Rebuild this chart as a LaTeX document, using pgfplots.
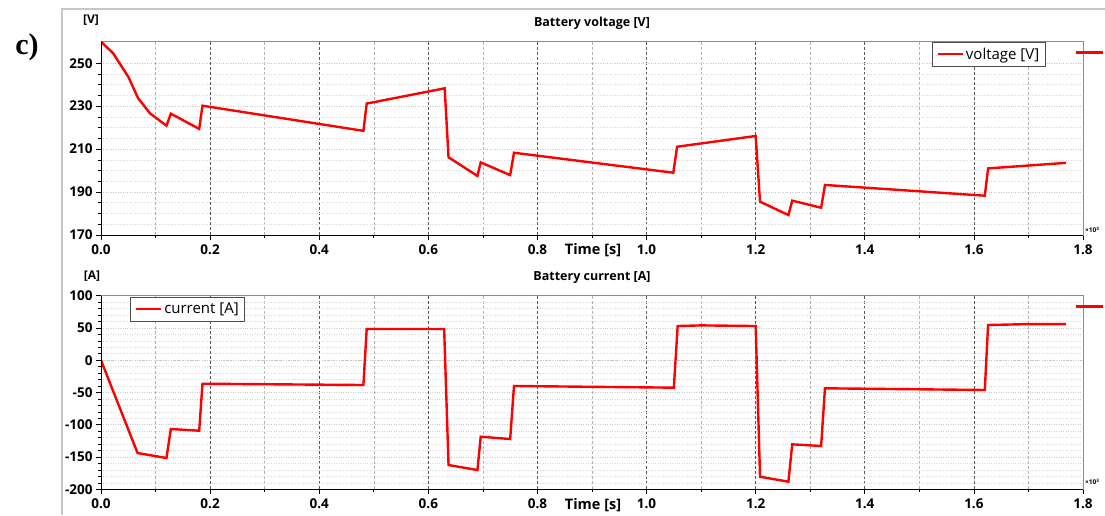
\documentclass[border=0pt]{standalone}
\usepackage{pgfplots}
\pgfplotsset{compat=1.18}
\usepackage{pgfplotstable}
\usepackage{fontspec}
\setmainfont{Open Sans}
\newfontfamily\serifbf{Liberation Serif}

\pgfplotstableread{
t V
0     260
0.022 254.7
0.05  243.7
0.068 233.7
0.09  226.6
0.120 220.9
0.128 226.5
0.180 219.4
0.186 230.2
0.481 218.5
0.487 231.2
0.630 238.3
0.637 206.2
0.690 197.5
0.696 203.8
0.750 197.9
0.757 208.3
1.049 199.0
1.056 211.1
1.200 216.1
1.208 185.5
1.260 179.3
1.267 186.0
1.320 182.7
1.327 193.3
1.620 188.3
1.626 201.0
1.769 203.6
}\voltdata

\pgfplotstableread{
t I
0     0
0.067 -143.8
0.120 -151.5
0.128 -106.6
0.180 -109.2
0.186 -36.4
0.481 -38.4
0.487 48.4
0.629 48.4
0.637 -162.4
0.690 -170.1
0.696 -118.5
0.750 -122.1
0.757 -39.9
1.050 -42.5
1.057 53.0
1.100 54.0
1.200 53.0
1.208 -180.5
1.260 -188.2
1.267 -130.3
1.320 -132.9
1.327 -43.5
1.620 -46.1
1.626 54.6
1.700 56.0
1.769 56.0
}\curdata

\pgfplotsset{
  common/.style={
    scale only axis, width=982pt,
    xmin=0, xmax=1.8,
    xtick={0,0.2,0.4,0.6,0.8,1.0,1.2,1.4,1.6,1.8},
    xticklabels={0.0,0.2,0.4,0.6,0.8,1.0,1.2,1.4,1.6,1.8},
    minor x tick num=1,
    tick pos=left, tick align=outside,
    major tick length=5pt, minor tick length=3pt,
    tick style={black, line width=0.6pt},
    grid=both,
    major x grid style={densely dashed, black!65, line width=0.6pt},
    minor x grid style={densely dashed, black!30, line width=0.5pt},
    major y grid style={dotted, black!22, line width=0.6pt},
    minor y grid style={dotted, black!15, line width=0.6pt},
    axis line style={black!45, line width=0.8pt},
    x tick label style={font=\bfseries\fontsize{13.5}{13.5}\selectfont, yshift=-1pt},
    y tick label style={font=\bfseries\fontsize{13.5}{13.5}\selectfont},
    legend style={draw=black!70, line width=0.8pt,
      font=\fontsize{15}{17}\selectfont, inner xsep=4pt, inner ysep=3.5pt},
    legend image code/.code={\draw[red, line width=2.4pt] (0pt,0pt) -- (25pt,0pt);},
    after end axis/.code={
      \draw[black, line width=0.8pt] (rel axis cs:0,1) -- (rel axis cs:0,0) -- (rel axis cs:1,0);
    },
  }
}

\begin{document}
\begin{tikzpicture}[x=1pt,y=1pt]
\path[use as bounding box] (0,0) rectangle (1105,515);
\draw[black!22, line width=2pt] (62,0) -- (62,506) -- (1105,506);
\node[font=\serifbf\bfseries\fontsize{30}{30}\selectfont] at (27,468) {c)};

\begin{axis}[common, at={(101pt,280pt)}, anchor=south west,
  height=193.3pt, ymin=170, ymax=260,
  ytick={170,190,210,230,250},
  yticklabels={170,190,210,230,250},
  minor y tick num=3,
  legend style={at={(0.962,1)}, anchor=north east}]
\addplot[red, line width=2.4pt] table[x=t, y=V] {\voltdata};
\addlegendentry{voltage [V]}
\end{axis}

\begin{axis}[common, at={(101pt,25.7pt)}, anchor=south west,
  height=193.6pt, ymin=-200, ymax=100,
  ytick={-200,-150,-100,-50,0,50,100},
  yticklabels={-200,-150,-100,-50,0,50,100},
  minor y tick num=4,
  extra y ticks={0}, extra y tick labels={},
  extra y tick style={major grid style={solid, black!25, line width=0.8pt}, tick style={draw=none}},
  legend style={at={(0.030,0.992)}, anchor=north west}]
\addplot[red, line width=2.4pt] table[x=t, y=I] {\curdata};
\addlegendentry{current [A]}
\end{axis}

\node[font=\bfseries\fontsize{12.5}{14}\selectfont] at (592,492) {Battery voltage [V]};
\node[font=\bfseries\fontsize{12.5}{14}\selectfont] at (592,237) {Battery current [A]};
\node[font=\bfseries\fontsize{12}{14}\selectfont] at (91,495) {[V]};
\node[font=\bfseries\fontsize{12}{14}\selectfont] at (92,239) {[A]};
\node[font=\bfseries\fontsize{14.5}{14.5}\selectfont] at (593,265) {Time [s]};
\node[font=\bfseries\fontsize{14.5}{14.5}\selectfont] at (593,10) {Time [s]};
\node[font=\bfseries\fontsize{6.5}{6.5}\selectfont, anchor=west, inner sep=0pt] at (1085,285) {×10\textsuperscript{3}};
\node[font=\bfseries\fontsize{6.5}{6.5}\selectfont, anchor=west, inner sep=0pt] at (1085,33) {×10\textsuperscript{3}};
\draw[red, line width=2.2pt] (1076,462.5) -- (1103,462.5);
\draw[red, line width=2.2pt] (1076,208.5) -- (1103,208.5);
\end{tikzpicture}
\end{document}
